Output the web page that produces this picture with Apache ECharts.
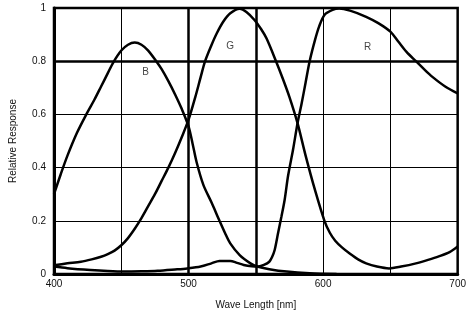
<!DOCTYPE html>
<html>
<head>
<meta charset="utf-8">
<script src="https://cdn.jsdelivr.net/npm/echarts@6/dist/echarts.min.js"></script>
<style>
  html, body { margin: 0; padding: 0; background: #fff; }
  #chart { width: 469px; height: 316px; }
</style>
</head>
<body>
<div id="chart"></div>
<script>
// [wavelength nm, relative response]
var blueCurve = [
  [400, 0.30], [405, 0.375], [410, 0.445], [417, 0.53], [424, 0.60], [430, 0.655],
  [435, 0.705], [440, 0.755], [444, 0.795], [450, 0.84], [455, 0.862], [460, 0.87],
  [465, 0.862], [470, 0.84], [476, 0.80], [480, 0.77], [485, 0.725], [490, 0.675],
  [495, 0.62], [500, 0.555], [503, 0.49], [506, 0.42], [511, 0.335], [517, 0.27],
  [520, 0.235], [523, 0.2], [527, 0.155], [531, 0.115], [538, 0.071], [546, 0.04],
  [551, 0.028], [560, 0.018], [573, 0.009], [590, 0.003], [610, 0]
];
var greenCurve = [
  [400, 0.033], [410, 0.04], [420, 0.046], [428, 0.055], [435, 0.065], [440, 0.075],
  [445, 0.088], [450, 0.108], [455, 0.135], [460, 0.17], [465, 0.21], [470, 0.255],
  [475, 0.30], [480, 0.35], [485, 0.40], [490, 0.455], [495, 0.515], [500, 0.58],
  [505, 0.665], [509, 0.74], [512.3, 0.8], [517, 0.86], [521, 0.905], [526, 0.95],
  [531, 0.98], [538, 0.997], [543, 0.985], [549, 0.955], [554, 0.92], [558, 0.885],
  [565, 0.8], [570, 0.735], [575, 0.665], [581, 0.567], [587, 0.445], [594, 0.315],
  [601, 0.2], [605, 0.155], [609, 0.125], [614, 0.1], [620, 0.076], [626, 0.055],
  [632, 0.04], [640, 0.028], [649, 0.021], [658, 0.028], [669, 0.04], [678, 0.053],
  [686, 0.066], [694, 0.082], [700, 0.103]
];
var redCurve = [
  [400, 0.028], [410, 0.022], [427, 0.015], [440, 0.011], [452, 0.009], [465, 0.01],
  [477, 0.012], [490, 0.017], [499, 0.021], [509, 0.028], [517, 0.04], [523, 0.049],
  [531, 0.049], [536, 0.042], [541, 0.034], [547, 0.029], [552, 0.028], [556, 0.034],
  [560, 0.046], [562, 0.063], [564, 0.09], [566.5, 0.153], [569, 0.215], [571.4, 0.278],
  [574, 0.37], [577.6, 0.466], [581, 0.567], [584, 0.64], [587, 0.72], [590, 0.8],
  [594, 0.88], [597, 0.93], [601, 0.974], [607, 0.993], [612, 0.998], [620, 0.99],
  [632, 0.967], [641, 0.943], [650, 0.911], [656, 0.873], [662, 0.835], [669, 0.8],
  [675, 0.77], [681, 0.742], [691, 0.704], [700, 0.679]
];

var curveNames = ['B', 'G', 'R'];
var curveLabelX = [468, 531, 633];
var curveLabelY = [0.757, 0.858, 0.851];

var xTickLabels = [400, 500, 600, 700];
var boldX = [500, 550];
var boldY = [0.8];

var textColor = '#111';
var font = 'Liberation Sans, Arial, sans-serif';

var myChart = echarts.init(document.getElementById('chart'));

function curve(name, data) {
  return {
    name: name,
    type: 'line',
    data: data,
    smooth: 0.3,
    showSymbol: false,
    silent: true,
    lineStyle: { color: '#000', width: 2.5 }
  };
}

var markData = [];
boldX.forEach(function (v) { markData.push({ xAxis: v }); });
boldY.forEach(function (v) { markData.push({ yAxis: v }); });

var labelData = curveNames.map(function (n, i) {
  return { name: n, value: [curveLabelX[i], curveLabelY[i]] };
});

var blueSeries = curve('B', blueCurve);
blueSeries.markLine = {
  silent: true,
  symbol: 'none',
  label: { show: false },
  lineStyle: { color: '#000', width: 2.5, type: 'solid' },
  data: markData
};

var option = {
  animation: false,
  backgroundColor: '#fff',
  grid: {
    left: 53, right: 10, top: 8, bottom: 42,
    show: true, borderColor: '#000', borderWidth: 2.5
  },
  xAxis: {
    type: 'value',
    min: 400, max: 700, interval: 50,
    name: 'Wave Length [nm]',
    nameLocation: 'middle',
    nameGap: 26,
    nameTextStyle: { color: textColor, fontSize: 10, fontFamily: font },
    axisLine: { show: true, lineStyle: { color: '#000', width: 3 } },
    axisTick: { show: false },
    axisLabel: {
      color: textColor, fontSize: 10, fontFamily: font, margin: 5,
      formatter: function (v) { return xTickLabels.indexOf(v) >= 0 ? String(v) : ''; }
    },
    splitLine: { show: true, lineStyle: { color: '#000', width: 1 } }
  },
  yAxis: {
    type: 'value',
    min: 0, max: 1, interval: 0.2,
    name: 'Relative Response',
    nameLocation: 'middle',
    nameGap: 36,
    nameTextStyle: { color: textColor, fontSize: 10, fontFamily: font },
    axisLine: { show: true, lineStyle: { color: '#000', width: 3 } },
    axisTick: { show: false },
    axisLabel: { color: textColor, fontSize: 10, fontFamily: font, margin: 8 },
    splitLine: { show: true, lineStyle: { color: '#000', width: 1 } }
  },
  series: [
    blueSeries,
    curve('G', greenCurve),
    curve('R', redCurve),
    {
      type: 'scatter',
      symbolSize: 0,
      silent: true,
      data: labelData,
      label: {
        show: true, position: 'inside', formatter: '{b}',
        color: textColor, fontSize: 10, fontFamily: font
      }
    }
  ]
};

myChart.setOption(option);
</script>
</body>
</html>
